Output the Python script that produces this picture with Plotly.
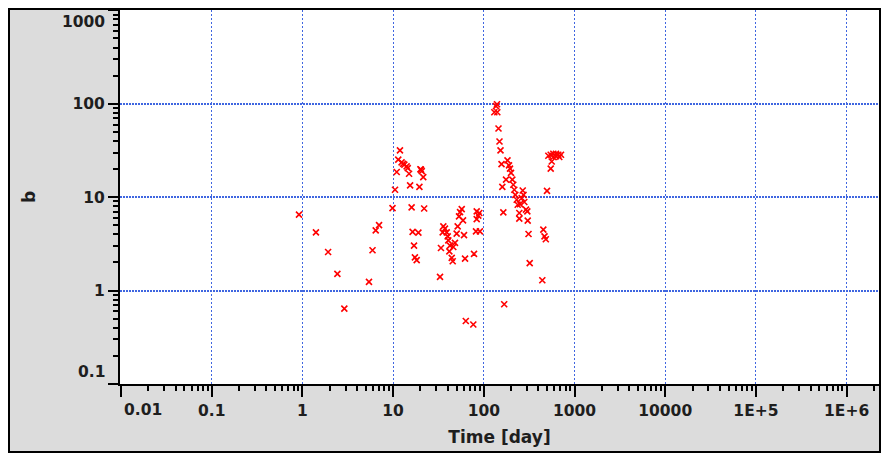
import math
import plotly.graph_objects as go

# ---- data (Time [day], b) ----
time_day = [
    0.917, 1.41, 1.92, 2.43, 2.90, 5.42, 5.93, 6.43, 7.0, 9.85,
    10.5, 10.96, 11.4, 11.9, 12.4, 13.3, 14.1, 12.9, 14.5, 15.0,
    15.4, 16.0, 16.4, 19.0, 17.0, 17.4, 18.2, 19.5, 20.3, 20.7,
    21.5, 22.0, 20.0,
    32.9, 33.7, 35.2, 35.8, 37.3, 39.0, 40.0, 40.6, 42.4, 46.1,
    41.7, 44.3, 45.4, 48.1, 50.2, 51.5, 53.3, 54.7, 57.1, 59.0,
    60.5, 62.1, 63.3,
    76.6, 78.0, 82.0, 90.5, 83.5, 87.0, 83.5, 89.2,
    136.4, 130.6, 140.9, 139.8, 145.2, 148.9, 152.8, 156.8, 182.4, 189.7,
    194.5, 199.5, 206.2, 211.5, 216.9, 222.5, 230.5, 236.4, 175.8, 160.0,
    268.5, 274.0, 261.6, 279.7, 250.7, 291.8, 301.7, 246.2, 246.2, 304.8,
    164.1, 311.2, 320.6, 167.8,
    441.6, 453.0, 466.9, 482.6, 497.5, 546.5, 560.7,
    514.3, 546.5, 583.9, 625.3, 662.7, 679.6, 583.9, 625.3, 710.0,
]
b_value = [
    6.50, 4.20, 2.59, 1.51, 0.642, 1.24, 2.70, 4.42, 5.02, 7.63,
    12.0, 18.6, 25.2, 31.7, 23.6, 22.3, 21.4, 22.8, 20.5, 17.8,
    13.4, 7.78, 4.25, 4.17, 3.03, 2.27, 2.12, 12.9, 19.7, 19.0,
    16.4, 7.57, 19.9,
    1.40, 2.86, 4.20, 4.87, 4.60, 4.20, 3.81, 3.45, 3.03, 2.93,
    2.63, 2.24, 2.06, 3.24, 4.07, 4.87, 6.23, 6.91, 7.44, 5.65,
    3.92, 2.20, 0.472,
    0.433, 2.47, 4.31, 4.31, 7.05, 6.34, 5.82, 6.78,
    94.5, 81.1, 81.1, 98.8, 54.4, 39.5, 31.7, 22.6, 24.8, 21.9,
    20.2, 18.2, 15.4, 13.6, 12.0, 10.6, 9.40, 8.31, 15.4, 12.9,
    11.8, 10.6, 9.80, 8.88, 8.42, 7.35, 7.05, 6.78, 5.89, 5.61,
    6.88, 4.04, 1.97, 0.714,
    1.29, 4.49, 3.81, 3.55, 11.7, 20.2, 24.1,
    27.8, 28.5, 29.2, 29.2, 28.5, 26.9, 26.9, 27.4, 28.5,
]

x_tick_vals = [0.01, 0.1, 1, 10, 100, 1000, 10000, 1e5, 1e6]
x_tick_text = ["0.01", "0.1", "1", "10", "100", "1000", "10000", "1E+5", "1E+6"]
y_tick_vals = [0.1, 1, 10, 100, 1000]
y_tick_text = ["0.1", "1", "10", "100", "1000"]

W, H = 882, 455
ML, MR, MT, MB = 120, 3, 10, 71
pw, ph = W - ML - MR, H - MT - MB

FONT = "DejaVu Sans"
grid_blue = "#3f66e0"
text_color = "#1e1e1e"

fig = go.Figure()
fig.add_trace(go.Scatter(
    x=time_day, y=b_value, mode="markers",
    marker=dict(symbol="x-thin", size=6, color="red",
                line=dict(width=1.6, color="red")),
    showlegend=False, hoverinfo="x+y",
))

def px_x(p):
    return (p - ML) / pw

def px_y(p):
    return (H - MB - p) / ph

# outer gray frame and white plot area
fig.add_shape(type="rect", xref="paper", yref="paper",
              x0=px_x(9), x1=px_x(880), y0=px_y(452), y1=px_y(9),
              fillcolor="#dcdcdc", line=dict(color="black", width=2), layer="below")
fig.add_shape(type="rect", xref="paper", yref="paper",
              x0=0, x1=1, y0=0, y1=1,
              fillcolor="white", line=dict(width=0), layer="below")

tick_font = dict(family=FONT, size=15.5, color=text_color, weight="bold")
title_font = dict(family=FONT, size=17, color=text_color, weight="bold")

# edge labels are nudged inward (as in the reference) -> drawn as annotations
x_text_axis = [t if v != x_tick_vals[0] else "" for v, t in zip(x_tick_vals, x_tick_text)]
y_text_axis = [t if v not in (y_tick_vals[0], y_tick_vals[-1]) else ""
               for v, t in zip(y_tick_vals, y_tick_text)]

fig.update_xaxes(
    type="log", range=[-2.011, 6.357],
    tickmode="array", tickvals=x_tick_vals, ticktext=x_text_axis,
    ticks="outside", ticklen=11, tickwidth=2, tickcolor="black",
    showline=True, linecolor="black", linewidth=2,
    showgrid=True, gridcolor=grid_blue, gridwidth=1, griddash="2px,2px",
    zeroline=False, tickfont=tick_font,
    minor=dict(dtick="D1", ticks="outside", ticklen=5, tickwidth=1.5,
               tickcolor="black", showgrid=False),
    title=dict(text="Time [day]", font=title_font, standoff=13),
    automargin=False,
)
fig.update_yaxes(
    type="log", range=[-1, 3.004],
    tickmode="array", tickvals=y_tick_vals, ticktext=y_text_axis,
    ticks="outside", ticklen=10, tickwidth=2, tickcolor="black",
    showline=True, linecolor="black", linewidth=2,
    showgrid=True, gridcolor=grid_blue, gridwidth=2, griddash="2px,1px",
    zeroline=False, tickfont=tick_font,
    minor=dict(dtick="D1", ticks="outside", ticklen=5, tickwidth=1.5,
               tickcolor="black", showgrid=False),
    title=dict(text="b", font=title_font, standoff=33),
    automargin=False,
)

fig.add_annotation(x=math.log10(x_tick_vals[0]), xref="x", y=0, yref="paper",
                   text=x_tick_text[0], showarrow=False, font=tick_font,
                   xanchor="left", yanchor="middle", xshift=1, yshift=-26)
fig.add_annotation(x=0, xref="paper", y=math.log10(y_tick_vals[-1]), yref="y",
                   text=y_tick_text[-1], showarrow=False, font=tick_font,
                   xanchor="right", yanchor="middle", xshift=-13, yshift=-12)
fig.add_annotation(x=0, xref="paper", y=math.log10(y_tick_vals[0]), yref="y",
                   text=y_tick_text[0], showarrow=False, font=tick_font,
                   xanchor="right", yanchor="middle", xshift=-13, yshift=12)

fig.update_layout(
    width=W, height=H,
    margin=dict(l=ML, r=MR, t=MT, b=MB, pad=0),
    paper_bgcolor="white", plot_bgcolor="white",
    font=dict(family=FONT),
)

fig.write_html("out.html")
